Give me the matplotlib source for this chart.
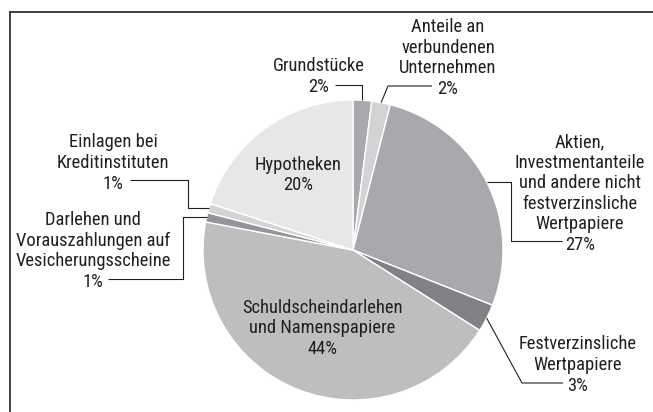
import numpy as np
import matplotlib
matplotlib.use("Agg")
import matplotlib.pyplot as plt
from matplotlib import font_manager

# data
labels = ["Grundstücke",
          "Anteile an\nverbundenen\nUnternehmen",
          "Aktien,\nInvestmentanteile\nund andere nicht\nfestverzinsliche\nWertpapiere",
          "Festverzinsliche\nWertpapiere",
          "Schuldscheindarlehen\nund Namenspapiere",
          "Darlehen und\nVorauszahlungen auf\nVesicherungsscheine",
          "Einlagen bei\nKreditinstituten",
          "Hypotheken"]
values = [2, 2, 27, 3, 44, 1, 1, 20]
colors = ["#a7a9ac", "#d1d3d4", "#a7a9ac", "#808285",
          "#bcbec0", "#939598", "#d1d3d4", "#e6e7e8"]

# label layout in pixel coords: text centre; None = inside the wedge
label_pos = [(319, 76.5), (448, 58), (580, 193.5), (578, 365),
             None, (93, 251), (113, 163), None]
inside_dist = {4: 0.56, 7: 0.62}
# leader elbows after the wedge anchor (None = keep previous coordinate)
leaders = [
    [(None, 85), (335, 85)],
    [(388, 86), (432, 86)],
    [(511, None), (511, 241), (562, 241)],
    [(522, 383), (563, 383)],
    None,
    [(183, None), (183, 279), (108, 279)],
    [(188, None), (188, 180), (130, 180)],
    None,
]

# pick a narrow sans if one is around
installed = {f.name for f in font_manager.fontManager.ttflist}
family = "Roboto"
for cand in ["Liberation Sans Narrow", "Roboto Condensed", "Arial Narrow"]:
    if cand in installed:
        family = cand
        break
plt.rcParams['font.family'] = [family, 'DejaVu Sans']
txt_color = "#231f20"

fig = plt.figure(figsize=(6.53, 4.12), dpi=100)
ax = fig.add_axes([0, 0, 1, 1])

# size the font from the width of "Grundstücke" in the reference
probe = fig.text(0, 0, "Grundstücke", fontsize=10)
w10 = probe.get_window_extent(renderer=fig.canvas.get_renderer()).width
probe.remove()
fsize = 10 * 92 / w10
lsp = 1.1 * 18.7 / (0.94 * fsize * 100 / 72)

cx, cy, r = 353, 250, 150
wedges, _ = ax.pie(values, colors=colors, startangle=270, counterclock=True,
                   center=(cx, cy), radius=r,
                   wedgeprops=dict(edgecolor="white", linewidth=1.0))
ax.set_xlim(0, 653)
ax.set_ylim(412, 0)
ax.set_aspect('auto')
ax.axis('off')

for i, w in enumerate(wedges):
    mid = np.deg2rad((w.theta1 + w.theta2) / 2)
    text = f"{labels[i]}\n{values[i]}%"
    if label_pos[i] is None:
        d = inside_dist[i] * r
        ax.text(cx + d * np.cos(mid), cy + d * np.sin(mid), text,
                ha='center', va='center', fontsize=fsize, linespacing=lsp,
                color=txt_color)
        continue
    tx, ty = label_pos[i]
    ax.text(tx, ty, text, ha='center', va='center', fontsize=fsize,
            linespacing=lsp, color=txt_color)
    # leader line from the wedge edge
    px, py = cx + r * np.cos(mid), cy + r * np.sin(mid)
    xs, ys = [px], [py]
    for ex, ey in leaders[i]:
        xs.append(xs[-1] if ex is None else ex)
        ys.append(ys[-1] if ey is None else ey)
    ax.plot(xs, ys, color="#231f20", linewidth=0.8, solid_capstyle='butt')

# frame: top and left edges only
ax.plot([10, 653], [12, 12], color="#333333", linewidth=1.3, clip_on=False)
ax.plot([10, 10], [12, 412], color="#333333", linewidth=1.3, clip_on=False)

fig.savefig("out.png", dpi=100)
